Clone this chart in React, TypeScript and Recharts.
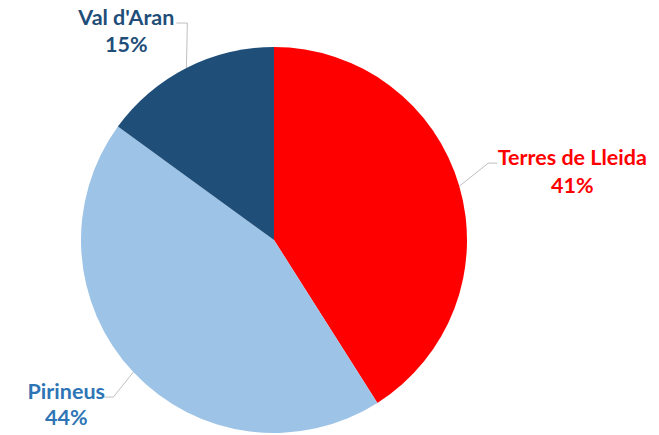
import { PieChart, Pie, Cell } from "recharts";

const regions = ["Terres de Lleida", "Pirineus", "Val d'Aran"];
const shares = [41, 44, 15];
const sliceColors = ["#FF0000", "#9DC3E6", "#1F4E79"];
const labelColors = ["#FF0000", "#2E75B6", "#1F4E79"];

// leader/label placement relative to the slice's outer edge point
const labelLayout = [
  { ex: 29, ey: -23, tail: 9, textDx: 84, b1: 2, b2: 30 },
  { ex: -20, ey: 25, tail: -9, textDx: -47, b1: 2, b2: 28 },
  { ex: 1, ey: -45, tail: -11, textDx: -61, b1: 2, b2: 29 },
];

const data = regions.map((name, i) => ({ name, value: shares[i] }));

const RADIAN = Math.PI / 180;

function renderLabel(props: any) {
  const { cx, cy, midAngle, outerRadius, index, percent, name } = props;
  const lay = labelLayout[index];
  const x0 = cx + outerRadius * Math.cos(-midAngle * RADIAN);
  const y0 = cy + outerRadius * Math.sin(-midAngle * RADIAN);
  const x1 = x0 + lay.ex;
  const y1 = y0 + lay.ey;
  const x2 = x1 + lay.tail;
  const tx = x1 + lay.textDx;
  return (
    <g>
      <polyline
        points={`${x0},${y0} ${x1},${y1} ${x2},${y1}`}
        fill="none"
        stroke="#BFBFBF"
        strokeWidth={1}
      />
      <text
        x={tx}
        y={y1 + lay.b1}
        textAnchor="middle"
        fill={labelColors[index]}
        fontFamily="Lato, 'Noto Sans', sans-serif"
        fontWeight={700}
        fontSize={21.5}
      >
        <tspan x={tx} y={y1 + lay.b1}>
          {name}
        </tspan>
        <tspan x={tx} y={y1 + lay.b2}>
          {Math.round(percent * 100)}%
        </tspan>
      </text>
    </g>
  );
}

export default function App() {
  return (
    <div style={{ position: "absolute", left: 0, top: 0, background: "#fff" }}>
      <PieChart
        width={659}
        height={435}
        margin={{ top: 0, right: 0, bottom: 0, left: 0 }}
      >
        <Pie
          data={data}
          dataKey="value"
          nameKey="name"
          cx={274}
          cy={240}
          outerRadius={193}
          startAngle={90}
          endAngle={-270}
          stroke="none"
          label={renderLabel}
          labelLine={false}
          isAnimationActive={false}
        >
          {data.map((d, i) => (
            <Cell key={d.name} fill={sliceColors[i]} />
          ))}
        </Pie>
      </PieChart>
    </div>
  );
}
